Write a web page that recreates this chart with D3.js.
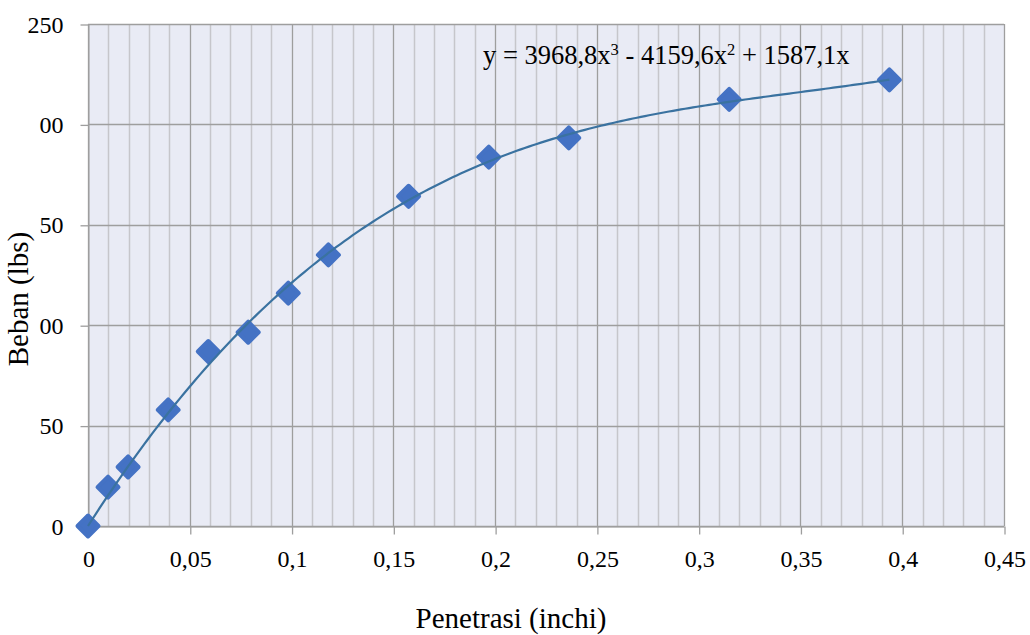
<!DOCTYPE html>
<html>
<head>
<meta charset="utf-8">
<script src="https://cdn.jsdelivr.net/npm/d3@7"></script>
<style>
  html, body { margin: 0; padding: 0; background: #ffffff; }
  svg text { font-family: "Liberation Serif", "Times New Roman", serif; fill: #000; }
</style>
</head>
<body>
<svg id="chart" width="1030" height="635"></svg>
<script>
// Penetration (inch) vs load (lbs)
const penetration = [0, 0.00984, 0.0197, 0.0394, 0.0591, 0.0787, 0.0984, 0.1181, 0.1575, 0.1969, 0.2362, 0.315, 0.3937];
const load = [0, 19.4, 29.4, 57.8, 86.9, 96.5, 116, 135, 164.2, 183.7, 193.3, 212.5, 222.2];

// Polynomial trendline coefficients (cubic, through origin)
const coeffs = { a3: 3968.8, a2: -4159.6, a1: 1587.1 };
const equationParts = ["y = 3968,8x", "3", " - 4159,6x", "2", " + 1587,1x"];

const xTicks = [0, 0.05, 0.1, 0.15, 0.2, 0.25, 0.3, 0.35, 0.4, 0.45];
const xTickLabels = ["0", "0,05", "0,1", "0,15", "0,2", "0,25", "0,3", "0,35", "0,4", "0,45"];
const yTicks = [0, 50, 100, 150, 200, 250];
const yTickLabels = ["0", "50", "00", "50", "00", "250"];

const xTitle = "Penetrasi (inchi)";
const yTitle = "Beban (lbs)";

const svg = d3.select("#chart");
const plotLeft = 88, plotRight = 1004, plotTop = 24, plotBottom = 526;

const x = d3.scaleLinear().domain([0, 0.45]).range([plotLeft, plotRight]);
const y = d3.scaleLinear().domain([0, 250]).range([plotBottom, plotTop]);

// Plot background
svg.append("rect")
  .attr("x", plotLeft).attr("y", plotTop)
  .attr("width", plotRight - plotLeft).attr("height", plotBottom - plotTop)
  .attr("fill", "#E9EBF5");

// Minor vertical gridlines every 0.01
const minorX = d3.range(1, 45).map(i => i / 100).filter(v => Math.round(v * 100) % 5 !== 0);
svg.append("g").selectAll("line").data(minorX).join("line")
  .attr("x1", d => Math.round(x(d)) + 0.5).attr("x2", d => Math.round(x(d)) + 0.5)
  .attr("y1", plotTop).attr("y2", plotBottom)
  .attr("stroke", "#C6C6CB").attr("stroke-width", 1.5);

// Major vertical gridlines
svg.append("g").selectAll("line").data(xTicks).join("line")
  .attr("x1", d => Math.round(x(d)) + 0.5).attr("x2", d => Math.round(x(d)) + 0.5)
  .attr("y1", plotTop).attr("y2", plotBottom)
  .attr("stroke", "#9E9E9E").attr("stroke-width", 1.3);

// Horizontal gridlines
svg.append("g").selectAll("line").data(yTicks).join("line")
  .attr("x1", plotLeft).attr("x2", plotRight)
  .attr("y1", d => Math.round(y(d)) + 0.5).attr("y2", d => Math.round(y(d)) + 0.5)
  .attr("stroke", "#9E9E9E").attr("stroke-width", 1.3);

// X axis
const xAxis = d3.axisBottom(x)
  .tickValues(xTicks)
  .tickFormat((d, i) => xTickLabels[i])
  .tickSize(8).tickSizeOuter(0).tickPadding(15);
const gx = svg.append("g").attr("transform", `translate(0.5,${plotBottom + 0.5})`).call(xAxis);
gx.select(".domain").attr("stroke", "#9E9E9E");
gx.selectAll(".tick line").attr("stroke", "#9E9E9E").attr("stroke-width", 1.3);
gx.selectAll(".tick text").attr("font-size", 24).attr("font-family", "Liberation Serif").attr("fill", "#000");

// Y axis
const yAxis = d3.axisLeft(y)
  .tickValues(yTicks)
  .tickFormat((d, i) => yTickLabels[i])
  .tickSize(8).tickSizeOuter(0).tickPadding(17);
const gy = svg.append("g").attr("transform", `translate(${plotLeft + 0.5},0.5)`).call(yAxis);
gy.select(".domain").attr("stroke", "#9E9E9E");
gy.selectAll(".tick line").attr("stroke", "#9E9E9E").attr("stroke-width", 1.3);
gy.selectAll(".tick text").attr("font-size", 24).attr("font-family", "Liberation Serif").attr("fill", "#000");

// Data markers (rounded diamonds)
const dHalf = 10.5;
svg.append("g").selectAll("path").data(penetration.map((p, i) => [p, load[i]])).join("path")
  .attr("d", `M0,${-dHalf}L${dHalf},0L0,${dHalf}L${-dHalf},0Z`)
  .attr("transform", d => `translate(${x(d[0])},${y(d[1])})`)
  .attr("fill", "#4472C4")
  .attr("stroke", "#4472C4").attr("stroke-width", 4).attr("stroke-linejoin", "round");

// Polynomial trendline
const poly = t => coeffs.a3 * t * t * t + coeffs.a2 * t * t + coeffs.a1 * t;
const xMax = d3.max(penetration);
const samples = d3.range(0, 201).map(i => xMax * i / 200);
svg.append("path")
  .datum(samples)
  .attr("d", d3.line().x(t => x(t)).y(t => y(poly(t))))
  .attr("fill", "none")
  .attr("stroke", "#3A72A0")
  .attr("stroke-width", 2.2);

// Trendline equation
const eq = svg.append("text")
  .attr("x", 483).attr("y", 64)
  .attr("font-size", 26.5);
equationParts.forEach((part, i) => {
  const sup = i % 2 === 1;
  eq.append("tspan")
    .attr("font-size", sup ? 16.5 : 26.5)
    .attr("dy", sup ? -9 : (i > 0 ? 9 : 0))
    .text(part);
});

// Axis titles
svg.append("text")
  .attr("x", 511).attr("y", 628)
  .attr("text-anchor", "middle").attr("font-size", 29)
  .text(xTitle);

svg.append("text")
  .attr("transform", `translate(28,299) rotate(-90)`)
  .attr("text-anchor", "middle").attr("font-size", 29)
  .text(yTitle);
</script>
</body>
</html>
